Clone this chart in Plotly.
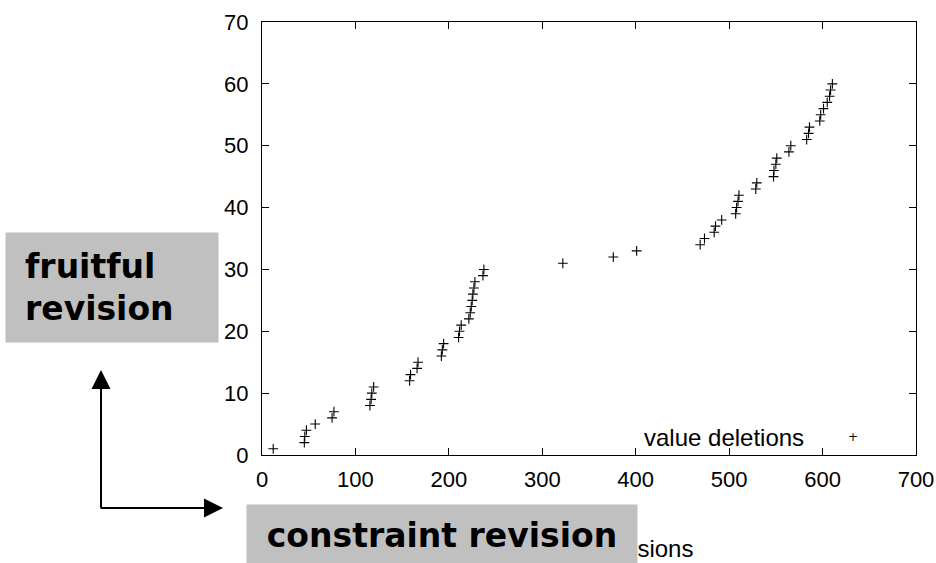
import plotly.graph_objects as go

# ---- data ----
revisions = [12, 45.3, 45.8, 47.5, 57, 75, 77, 115.5, 116.8, 117.5, 119.5,
             158, 159, 166, 167, 192, 193, 194.4, 210.4, 211.4, 213.2,
             221.4, 222.9, 224, 225, 225.7, 226.8, 227.9, 236.5, 237.5,
             322, 376, 401, 469, 473.6, 484, 485.4, 492, 507, 508, 509.5, 510.5,
             528.5, 529.6, 547.5, 548, 550, 551, 564, 566, 583, 585, 586,
             597, 598, 601, 605, 607.5, 608.6, 610.5]
deletions = [1, 2, 3, 4, 5, 6, 7, 8, 9, 10, 11, 12, 13, 14, 15, 16, 17, 18, 19, 20,
             21, 22, 23, 24, 25, 26, 27, 28, 29, 30, 31, 32, 33, 34, 35, 36, 37, 38, 39, 40,
             41, 42, 43, 44, 45, 46, 47, 48, 49, 50, 51, 52, 53, 54, 55, 56, 57, 58, 59, 60]
x_ticks = [0, 100, 200, 300, 400, 500, 600, 700]
y_ticks = [0, 10, 20, 30, 40, 50, 60, 70]
series_name = "value deletions"
x_title = "number of revisions"
box_y_text = "fruitful<br>revision"
box_x_text = "constraint revision"

W, H = 936, 563
L, R, T, B = 262, 916, 22, 455
PW, PH = R - L, B - T


def px(x):
    return (x - L) / PW


def py(y):
    return (B - y) / PH


TICKFONT = dict(family="Liberation Sans, Arial, sans-serif", size=22, color="black")
KEYFONT = dict(family="Liberation Sans, Arial, sans-serif", size=24, color="black")
BOXFONT = dict(family="DejaVu Sans, Verdana, sans-serif", size=33, color="black")

fig = go.Figure()
fig.add_trace(go.Scatter(
    x=revisions, y=deletions, mode="markers", name=series_name,
    marker=dict(symbol="cross-thin", size=7, color="black",
                line=dict(color="black", width=1.1)),
    showlegend=False,
))

axis_common = dict(showline=True, linecolor="black", linewidth=1, mirror="ticks",
                   ticks="inside", ticklen=7, tickcolor="black", tickwidth=1,
                   showgrid=False, zeroline=False, tickfont=TICKFONT)

fig.update_xaxes(range=[0, 700], tickvals=x_ticks, ticktext=[str(v) for v in x_ticks],
                 ticklabelstandoff=5, **axis_common)
fig.update_yaxes(range=[0, 70], tickvals=y_ticks, ticktext=[str(v) for v in y_ticks],
                 ticklabelstandoff=8, **axis_common)

annotations = [
    # key
    dict(x=px(806), y=py(437), xref="paper", yref="paper", text=series_name,
         showarrow=False, xanchor="right", yanchor="middle", font=KEYFONT),
    dict(x=px(853), y=py(437), xref="paper", yref="paper", text="+",
         showarrow=False, xanchor="center", yanchor="middle",
         font=dict(family="DejaVu Sans, Arial", size=12, color="#000000")),
    # x-axis title (partly hidden under the grey box)
    dict(x=px(695), y=py(548), xref="paper", yref="paper", text=x_title,
         showarrow=False, xanchor="right", yanchor="middle", font=KEYFONT),
    # grey boxes
    dict(x=px(5), y=py(232), xref="paper", yref="paper", text="<b>" + box_y_text + "</b>",
         showarrow=False, xanchor="left", yanchor="top", align="left",
         width=174, height=71, borderpad=19, bgcolor="#c0c0c0",
         font=BOXFONT),
    dict(x=px(442), y=py(504), xref="paper", yref="paper", text="<b>" + box_x_text + "</b>",
         showarrow=False, xanchor="center", yanchor="top", align="center",
         width=386, height=56, borderpad=2, bgcolor="#c0c0c0",
         font=BOXFONT),
    # arrows
    dict(x=px(101), y=py(370), xref="paper", yref="paper", text="",
         showarrow=True, ax=0, ay=139, arrowhead=2, arrowsize=1.9, arrowwidth=2,
         arrowcolor="black"),
    dict(x=px(223), y=py(508), xref="paper", yref="paper", text="",
         showarrow=True, ax=-124, ay=0, arrowhead=2, arrowsize=1.9, arrowwidth=2,
         arrowcolor="black"),
]

fig.update_layout(
    width=W, height=H,
    margin=dict(l=L, r=W - R, t=T, b=H - B, autoexpand=False),
    paper_bgcolor="white", plot_bgcolor="white",
    annotations=annotations,
    showlegend=False,
)

fig.write_html("out.html")
